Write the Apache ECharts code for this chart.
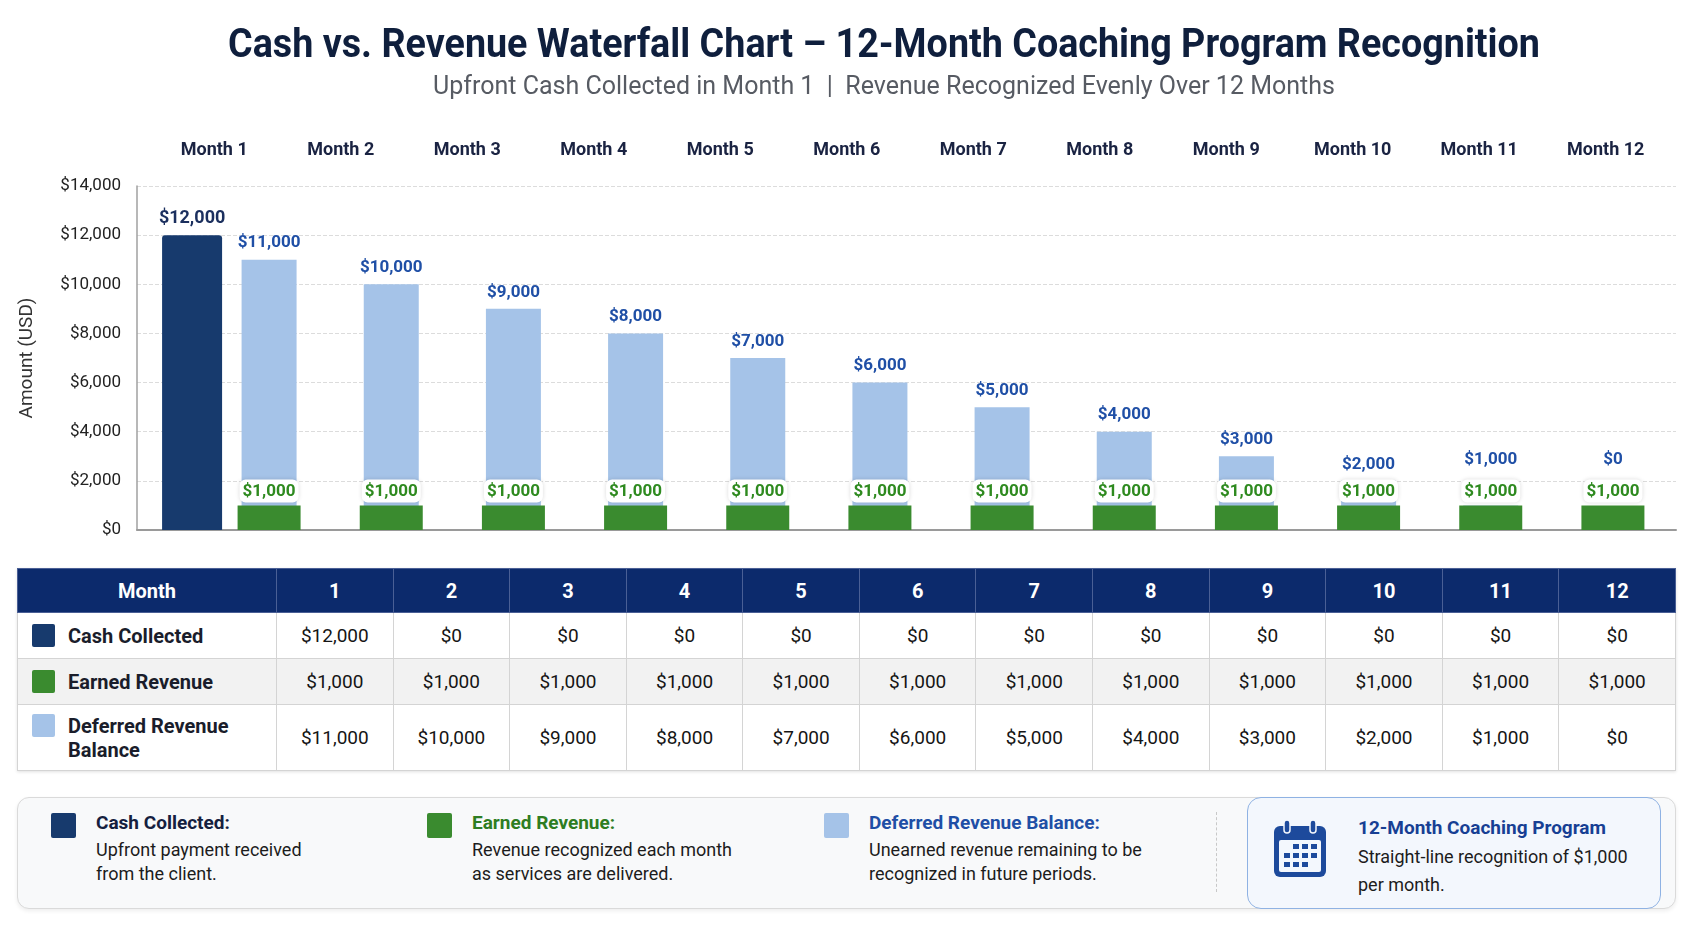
<!DOCTYPE html>
<html>
<head>
<meta charset="utf-8">
<script src="https://cdn.jsdelivr.net/npm/echarts@6/dist/echarts.min.js"></script>
<style>
  body { margin: 0; width: 1693px; height: 929px; background: #fff; font-family: Roboto, 'Noto Sans', sans-serif; position: relative; overflow: hidden; }
  #chart { position: absolute; left: 0; top: 0; width: 1693px; height: 560px; }
  table.data { position: absolute; left: 17px; top: 568px; width: 1659px; border-collapse: collapse; table-layout: fixed; box-shadow: 0 1px 3px rgba(0,0,0,0.12); }
  table.data th { background: #0c2a6c; color: #fff; font-weight: 700; font-size: 20px; height: 43px; border: 1px solid #4a5f95; padding: 0; }
  table.data td { border: 1px solid #d4d4d4; font-size: 19px; color: #151515; text-align: center; padding: 0; }
  table.data tr.r1 td { height: 45px; background: #fff; }
  table.data tr.r2 td { height: 45px; background: #f2f2f2; }
  table.data tr.r3 td { height: 65px; background: #fff; }
  table.data td.lab { text-align: left; font-weight: 700; font-size: 20px; color: #1a1d2b; }
  .lab .wrap { display: flex; align-items: flex-start; padding-left: 14px; line-height: 24px; }
  .lab .sw { width: 23px; height: 23px; margin-right: 13px; flex: none; border-radius: 2px; }
  .legend { position: absolute; left: 17px; top: 797px; width: 1657px; height: 110px; border: 1px solid #dadada; border-radius: 12px; background: #f8f9fa; box-shadow: 0 2px 4px rgba(0,0,0,0.07); }
  .item { position: absolute; }
  .item .sw { position: absolute; left: 0; top: 0; width: 25px; height: 25px; border-radius: 2px; }
  .item .tt { position: absolute; left: 45px; top: -2px; font-weight: 700; font-size: 19px; line-height: 24px; white-space: nowrap; }
  .item .ds { position: absolute; left: 45px; top: 25px; font-size: 18px; line-height: 24px; color: #1c1c1c; white-space: nowrap; }
  .sep { position: absolute; left: 1216px; top: 812px; height: 80px; border-left: 1px dashed #c8c8c8; }
  .prog { position: absolute; left: 1247px; top: 797px; width: 412px; height: 110px; border: 1.5px solid #8fb2e3; border-radius: 14px; background: #f3f7fd; }
  .prog svg { position: absolute; left: 24px; top: 21px; }
  .prog .tt { position: absolute; left: 110px; top: 18px; font-weight: 700; font-size: 19px; color: #173f94; white-space: nowrap; }
  .prog .ds { position: absolute; left: 110px; top: 45px; font-size: 18px; line-height: 28px; color: #1c1c1c; white-space: nowrap; }
</style>
</head>
<body>
<div id="chart"></div>
<table class="data" id="tbl"></table>
<div class="legend"></div>
<div class="item" style="left:51px;top:813px"><div class="sw" style="background:#173a6d"></div><div class="tt" style="color:#15203f">Cash Collected:</div><div class="ds">Upfront payment received<br>from the client.</div></div>
<div class="item" style="left:427px;top:813px"><div class="sw" style="background:#3a8b2f"></div><div class="tt" style="color:#2e7d22">Earned Revenue:</div><div class="ds">Revenue recognized each month<br>as services are delivered.</div></div>
<div class="item" style="left:824px;top:813px"><div class="sw" style="background:#a5c3e8"></div><div class="tt" style="color:#1f4fa6">Deferred Revenue Balance:</div><div class="ds">Unearned revenue remaining to be<br>recognized in future periods.</div></div>
<div class="sep"></div>
<div class="prog">
  <svg width="56" height="60" viewBox="0 0 56 60">
    <rect x="2" y="7" width="52" height="51" rx="6" fill="#1d4a9c"/>
    <rect x="7" y="21" width="42" height="32" rx="2" fill="#f3f7fd"/>
    <rect x="12" y="1" width="6" height="13" rx="3" fill="#1d4a9c" stroke="#f3f7fd" stroke-width="1.5"/>
    <rect x="38" y="1" width="6" height="13" rx="3" fill="#1d4a9c" stroke="#f3f7fd" stroke-width="1.5"/>
    <g fill="#1d4a9c">
      <rect x="21" y="25" width="6" height="5"/><rect x="30" y="25" width="6" height="5"/><rect x="39" y="25" width="6" height="5"/>
      <rect x="12" y="34" width="6" height="5"/><rect x="21" y="34" width="6" height="5"/><rect x="30" y="34" width="6" height="5"/><rect x="39" y="34" width="6" height="5"/>
      <rect x="12" y="43" width="6" height="5"/><rect x="21" y="43" width="6" height="5"/><rect x="30" y="43" width="6" height="5"/>
    </g>
  </svg>
  <div class="tt">12-Month Coaching Program</div>
  <div class="ds">Straight-line recognition of $1,000<br>per month.</div>
</div>
<script>
// data
var months = ['Month 1', 'Month 2', 'Month 3', 'Month 4', 'Month 5', 'Month 6', 'Month 7', 'Month 8', 'Month 9', 'Month 10', 'Month 11', 'Month 12'];
var monthNumbers = ['1', '2', '3', '4', '5', '6', '7', '8', '9', '10', '11', '12'];
var cashCollected = [12000, 0, 0, 0, 0, 0, 0, 0, 0, 0, 0, 0];
var earnedRevenue = [1000, 1000, 1000, 1000, 1000, 1000, 1000, 1000, 1000, 1000, 1000, 1000];
var deferredBalance = [11000, 10000, 9000, 8000, 7000, 6000, 5000, 4000, 3000, 2000, 1000, 0];
var yMax = 14000, yStep = 2000;

var titleText = 'Cash vs. Revenue Waterfall Chart \u2013 12-Month Coaching Program Recognition';
var subtitleText = 'Upfront Cash Collected in Month 1  |  Revenue Recognized Evenly Over 12 Months';

function fmt(v) { return '$' + Number(v).toLocaleString('en-US'); }

// table
var rowDefs = [
  { cls: 'r1', name: 'Cash Collected', color: '#173a6d', values: cashCollected },
  { cls: 'r2', name: 'Earned Revenue', color: '#3a8b2f', values: earnedRevenue },
  { cls: 'r3', name: 'Deferred Revenue<br>Balance', color: '#a5c3e8', values: deferredBalance }
];
var html = '<colgroup><col style="width:259px">' + monthNumbers.map(function () { return '<col>'; }).join('') + '</colgroup>';
html += '<tr><th>Month</th>' + monthNumbers.map(function (m) { return '<th>' + m + '</th>'; }).join('') + '</tr>';
rowDefs.forEach(function (r) {
  html += '<tr class="' + r.cls + '"><td class="lab"><div class="wrap"><div class="sw" style="background:' + r.color + '"></div><div>' + r.name + '</div></div></td>' +
    r.values.map(function (v) { return '<td>' + fmt(v) + '</td>'; }).join('') + '</tr>';
});
document.getElementById('tbl').innerHTML = html;

// condensed look for the title: squeeze bold Roboto to the reference width
var titleFont = 'bold 40px Roboto';
var ctx = document.createElement('canvas').getContext('2d');
ctx.font = titleFont;
var titleScale = 1312 / ctx.measureText(titleText).width;

// chart
var plotTop = 186, plotHeight = 344;
var pxPerUnit = plotHeight / yMax;
var chart = echarts.init(document.getElementById('chart'));

var hiddenY = function (g) { return { type: 'value', gridIndex: g, min: 0, max: yMax, interval: yStep, show: false, splitLine: { show: false } }; };

var option = {
  textStyle: { fontFamily: 'Roboto' },
  animation: false,
  graphic: [
    { type: 'text', x: 884, y: 47, scaleX: titleScale, silent: true,
      style: { text: titleText, font: titleFont, fill: '#0f1f3d', align: 'center', verticalAlign: 'middle' } },
    { type: 'text', x: 884, y: 88, silent: true,
      style: { text: subtitleText, font: '25px Roboto', fill: '#575b63', align: 'center', verticalAlign: 'middle' } }
  ],
  grid: [
    { left: 137, right: 17, top: plotTop, height: plotHeight },   // axes and gridlines
    { left: 208, right: 19, top: plotTop, height: plotHeight },   // earned + deferred bars
    { left: 131, right: 96, top: plotTop, height: plotHeight },   // cash bar
    { left: 151, right: 24, top: plotTop, height: plotHeight }    // month labels
  ],
  xAxis: [
    { type: 'category', gridIndex: 0, position: 'bottom', data: months,
      axisLine: { lineStyle: { color: '#9a9a9a', width: 2 } }, axisTick: { show: false }, axisLabel: { show: false } },
    { type: 'category', gridIndex: 1, position: 'bottom', data: months, show: false },
    { type: 'category', gridIndex: 1, position: 'top', data: months, show: false },
    { type: 'category', gridIndex: 2, position: 'bottom', data: months, show: false },
    { type: 'category', gridIndex: 3, position: 'top', data: months,
      axisLine: { show: false }, axisTick: { show: false },
      axisLabel: { margin: 27, fontSize: 18, fontWeight: 'bold', color: '#1a2342' } }
  ],
  yAxis: [
    { type: 'value', gridIndex: 0, min: 0, max: yMax, interval: yStep,
      name: 'Amount (USD)', nameLocation: 'middle', nameGap: 100,
      nameTextStyle: { fontSize: 19, color: '#333' },
      axisLine: { show: true, lineStyle: { color: '#a0a0a0', width: 1.5 } }, axisTick: { show: false },
      axisLabel: { margin: 16, fontSize: 17, color: '#222', formatter: function (v) { return fmt(v); } },
      splitLine: { lineStyle: { type: 'dashed', color: '#dcdcdc' } } },
    hiddenY(1), hiddenY(2), hiddenY(3)
  ],
  series: [
    { name: 'Deferred Revenue Balance', type: 'bar', xAxisIndex: 2, yAxisIndex: 1, barWidth: 55, z: 1,
      itemStyle: { color: '#a5c3e8' },
      label: { show: true, position: 'top', distance: 8, fontSize: 17, fontWeight: 'bold', color: '#1f4fa6', formatter: function (p) { return fmt(p.value); } },
      data: deferredBalance.map(function (v) {
        // keep small balances' labels clear of the earned revenue label
        var lift = Math.min(0, (v - 1000) * pxPerUnit - 29);
        return { value: v, label: { offset: [0, v < 2000 ? lift : 0] } };
      }) },
    { name: 'Cash Collected', type: 'bar', xAxisIndex: 3, yAxisIndex: 2, barWidth: 60, z: 2,
      itemStyle: { color: '#173a6d', borderRadius: [3, 3, 0, 0] },
      label: { show: true, position: 'top', distance: 8, fontSize: 18, fontWeight: 'bold', color: '#1b2f5e', formatter: function (p) { return fmt(p.value); } },
      data: cashCollected.map(function (v) { return v > 0 ? v : '-'; }) },
    { name: 'Earned Revenue', type: 'bar', xAxisIndex: 1, yAxisIndex: 1, barWidth: 63, z: 3,
      itemStyle: { color: '#3a8b2f' },
      label: { show: true, position: 'top', distance: 3, fontSize: 17, fontWeight: 'bold', color: '#2e8a1f',
        backgroundColor: '#fff', borderRadius: 6, padding: [4, 3, 2, 3],
        shadowBlur: 4, shadowColor: 'rgba(0,0,0,0.15)',
        formatter: function (p) { return fmt(p.value); } },
      data: earnedRevenue }
  ]
};
chart.setOption(option);
</script>
</body>
</html>
